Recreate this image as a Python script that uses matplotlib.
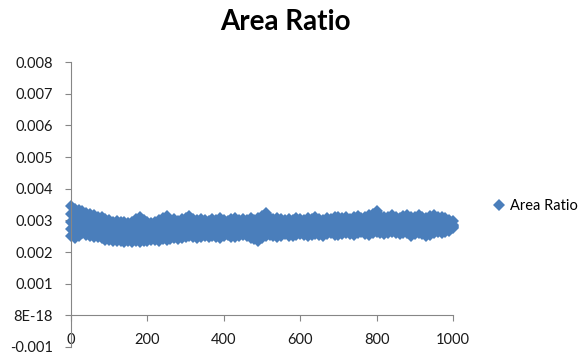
import numpy as np
import matplotlib
matplotlib.use("Agg")
import matplotlib.pyplot as plt

# x positions of the points (one column every 10 units)
x_vals = np.arange(0, 1001, 10)

# upper edge of the band
y_top = [0.00344, 0.00337, 0.00332, 0.00328, 0.00323, 0.00320, 0.00316, 0.00312, 0.00309, 0.00304, 0.00300,
         0.00296, 0.00298, 0.00294, 0.00295, 0.00293, 0.00296, 0.00304, 0.00309, 0.00300, 0.00294,
         0.00292, 0.00296, 0.00300, 0.00308, 0.00313, 0.00300, 0.00303, 0.00298, 0.00304, 0.00308,
         0.00313, 0.00305, 0.00300, 0.00305, 0.00302, 0.00299, 0.00304, 0.00301, 0.00306, 0.00302,
         0.00298, 0.00303, 0.00307, 0.00300, 0.00304, 0.00301, 0.00306, 0.00302, 0.00308, 0.00313,
         0.00322, 0.00307, 0.00303, 0.00307, 0.00303, 0.00300, 0.00305, 0.00302, 0.00308, 0.00304,
         0.00301, 0.00306, 0.00303, 0.00309, 0.00304, 0.00302, 0.00307, 0.00304, 0.00310, 0.00311,
         0.00306, 0.00309, 0.00304, 0.00310, 0.00314, 0.00307, 0.00310, 0.00316, 0.00321, 0.00328,
         0.00314, 0.00309, 0.00312, 0.00317, 0.00310, 0.00307, 0.00313, 0.00316, 0.00309, 0.00311,
         0.00317, 0.00310, 0.00307, 0.00314, 0.00317, 0.00310, 0.00312, 0.00308, 0.00302, 0.00297]

y_upper = [0.00320, 0.00313, 0.00311, 0.00309, 0.00306, 0.00302, 0.00298, 0.00296, 0.00292, 0.00288, 0.00285,
           0.00279, 0.00281, 0.00278, 0.00278, 0.00277, 0.00279, 0.00284, 0.00287, 0.00281, 0.00278,
           0.00277, 0.00279, 0.00282, 0.00287, 0.00290, 0.00283, 0.00285, 0.00282, 0.00286, 0.00289,
           0.00292, 0.00287, 0.00283, 0.00287, 0.00285, 0.00282, 0.00286, 0.00284, 0.00288, 0.00285,
           0.00282, 0.00286, 0.00289, 0.00284, 0.00287, 0.00284, 0.00288, 0.00285, 0.00289, 0.00293,
           0.00298, 0.00289, 0.00286, 0.00290, 0.00287, 0.00284, 0.00288, 0.00286, 0.00290, 0.00287,
           0.00285, 0.00289, 0.00286, 0.00291, 0.00287, 0.00286, 0.00290, 0.00287, 0.00292, 0.00293,
           0.00289, 0.00292, 0.00288, 0.00293, 0.00296, 0.00291, 0.00293, 0.00297, 0.00301, 0.00305,
           0.00296, 0.00292, 0.00295, 0.00299, 0.00294, 0.00291, 0.00296, 0.00298, 0.00293, 0.00295,
           0.00299, 0.00294, 0.00291, 0.00296, 0.00299, 0.00294, 0.00295, 0.00292, 0.00288, 0.00284]

y_middle = [0.00296, 0.00290, 0.00291, 0.00292, 0.00289, 0.00284, 0.00281, 0.00280, 0.00276, 0.00272, 0.00269,
            0.00266, 0.00268, 0.00265, 0.00264, 0.00265, 0.00264, 0.00268, 0.00269, 0.00267, 0.00265,
            0.00266, 0.00268, 0.00268, 0.00273, 0.00273, 0.00271, 0.00273, 0.00270, 0.00275, 0.00278,
            0.00280, 0.00276, 0.00273, 0.00276, 0.00276, 0.00273, 0.00277, 0.00275, 0.00275, 0.00276,
            0.00275, 0.00276, 0.00276, 0.00276, 0.00278, 0.00275, 0.00275, 0.00272, 0.00272, 0.00278,
            0.00282, 0.00280, 0.00277, 0.00277, 0.00278, 0.00278, 0.00278, 0.00276, 0.00280, 0.00280,
            0.00277, 0.00278, 0.00278, 0.00282, 0.00278, 0.00277, 0.00281, 0.00281, 0.00281, 0.00281,
            0.00281, 0.00284, 0.00280, 0.00282, 0.00285, 0.00284, 0.00283, 0.00284, 0.00288, 0.00291,
            0.00285, 0.00282, 0.00286, 0.00289, 0.00285, 0.00282, 0.00286, 0.00286, 0.00282, 0.00285,
            0.00288, 0.00283, 0.00280, 0.00284, 0.00288, 0.00286, 0.00286, 0.00286, 0.00285, 0.00282]

y_lower = [0.00272, 0.00267, 0.00272, 0.00277, 0.00273, 0.00267, 0.00264, 0.00265, 0.00260, 0.00256, 0.00253,
           0.00251, 0.00253, 0.00251, 0.00249, 0.00252, 0.00250, 0.00252, 0.00250, 0.00253, 0.00251,
           0.00254, 0.00256, 0.00254, 0.00258, 0.00255, 0.00258, 0.00260, 0.00257, 0.00262, 0.00265,
           0.00268, 0.00264, 0.00262, 0.00265, 0.00267, 0.00264, 0.00268, 0.00265, 0.00262, 0.00267,
           0.00269, 0.00265, 0.00264, 0.00268, 0.00270, 0.00266, 0.00262, 0.00259, 0.00256, 0.00262,
           0.00267, 0.00270, 0.00267, 0.00264, 0.00268, 0.00271, 0.00267, 0.00265, 0.00269, 0.00272,
           0.00268, 0.00266, 0.00270, 0.00273, 0.00268, 0.00267, 0.00271, 0.00274, 0.00270, 0.00268,
           0.00273, 0.00276, 0.00272, 0.00270, 0.00274, 0.00277, 0.00273, 0.00270, 0.00274, 0.00278,
           0.00274, 0.00272, 0.00276, 0.00279, 0.00275, 0.00272, 0.00276, 0.00274, 0.00271, 0.00275,
           0.00277, 0.00272, 0.00268, 0.00271, 0.00276, 0.00278, 0.00276, 0.00279, 0.00281, 0.00280]

# lower edge of the band
y_bottom = [0.00249, 0.00243, 0.00252, 0.00259, 0.00255, 0.00249, 0.00246, 0.00248, 0.00243, 0.00239, 0.00237,
            0.00234, 0.00236, 0.00234, 0.00232, 0.00235, 0.00233, 0.00235, 0.00232, 0.00236, 0.00234,
            0.00237, 0.00239, 0.00236, 0.00240, 0.00237, 0.00240, 0.00243, 0.00240, 0.00245, 0.00248,
            0.00250, 0.00246, 0.00244, 0.00248, 0.00250, 0.00246, 0.00251, 0.00248, 0.00245, 0.00250,
            0.00253, 0.00248, 0.00246, 0.00251, 0.00254, 0.00249, 0.00244, 0.00240, 0.00235, 0.00244,
            0.00250, 0.00254, 0.00250, 0.00247, 0.00252, 0.00256, 0.00251, 0.00249, 0.00253, 0.00257,
            0.00253, 0.00250, 0.00255, 0.00258, 0.00253, 0.00251, 0.00256, 0.00259, 0.00255, 0.00253,
            0.00258, 0.00261, 0.00257, 0.00255, 0.00259, 0.00262, 0.00258, 0.00255, 0.00259, 0.00263,
            0.00259, 0.00257, 0.00261, 0.00264, 0.00260, 0.00257, 0.00261, 0.00259, 0.00250, 0.00256,
            0.00261, 0.00256, 0.00250, 0.00254, 0.00260, 0.00263, 0.00260, 0.00263, 0.00267, 0.00275]

x_ticks = [0, 200, 400, 600, 800, 1000]
y_ticks = [-0.001, 0, 0.001, 0.002, 0.003, 0.004, 0.005, 0.006, 0.007, 0.008]
y_tick_labels = ["-0.001", "8E-18", "0.001", "0.002", "0.003", "0.004",
                 "0.005", "0.006", "0.007", "0.008"]

plt.rcParams['font.family'] = ['Lato', 'DejaVu Sans']

blue = "#4a7ebb"
grey = "#868686"

fig = plt.figure(figsize=(5.85, 3.56), dpi=100)
ax = fig.add_axes([71 / 585, 9 / 356, 382 / 585, 285 / 356])

x_all = np.concatenate([x_vals] * 5)
y_all = np.concatenate([y_top, y_upper, y_middle, y_lower, y_bottom])
ax.plot(x_all, y_all, linestyle="none", marker="D", markersize=6.2,
        color=blue, markeredgewidth=0, label="Area Ratio", clip_on=False)

ax.set_xlim(0, 1000)
ax.set_ylim(-0.001, 0.008)
ax.set_xticks(x_ticks)
ax.set_yticks(y_ticks)
ax.set_yticklabels(y_tick_labels)

for s in ["top", "right"]:
    ax.spines[s].set_visible(False)
ax.spines["bottom"].set_position(("data", 0))
ax.spines["bottom"].set_color(grey)
ax.spines["left"].set_color(grey)
ax.tick_params(axis="both", direction="out", length=4, width=0.8, color=grey,
               labelsize=10.5, labelcolor="#1a1a1a")
ax.tick_params(axis="y", pad=9)
ax.tick_params(axis="x", pad=9)

fig.text(0.488, 1 - 22 / 356, "Area Ratio", ha="center", va="center",
         fontsize=20, fontweight="bold", color="black")

ax.legend(loc="center left", bbox_to_anchor=(493 / 585, 1 - 206 / 356),
          bbox_transform=fig.transFigure, frameon=False, fontsize=10.5,
          handlelength=0.8, handletextpad=0.4, borderpad=0, borderaxespad=0,
          markerscale=1.0)

fig.savefig("out.png", dpi=100)
